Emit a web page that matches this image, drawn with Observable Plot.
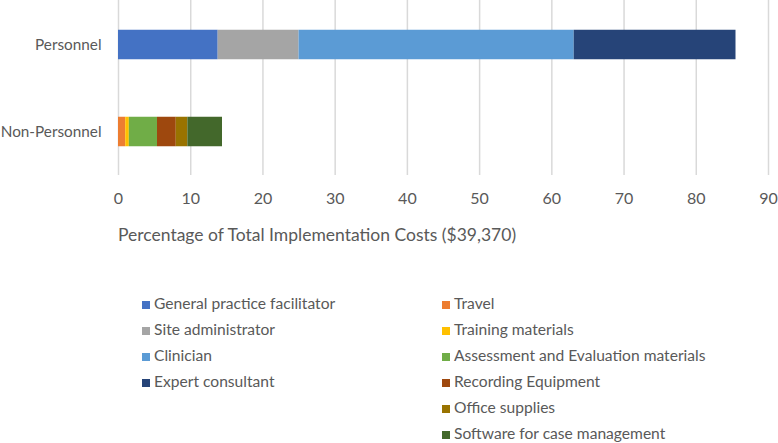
<!DOCTYPE html>
<html>
<head>
<meta charset="utf-8">
<script src="https://cdn.jsdelivr.net/npm/d3@7"></script>
<script src="https://cdn.jsdelivr.net/npm/@observablehq/plot@0.6"></script>
<style>
  html, body { margin: 0; padding: 0; background: #ffffff; }
  #wrap { position: relative; width: 778px; height: 443px; font-family: Lato, "Open Sans", sans-serif; color: #595959; overflow: hidden; }
  #chart { position: absolute; left: 0; top: 0; }
  #xtitle { position: absolute; left: 118px; top: 224px; font-size: 17.5px; line-height: 22px; white-space: nowrap; }
  .lg { position: absolute; font-size: 15.6px; line-height: 18px; white-space: nowrap; }
  .lg span.sw { display: inline-block; width: 8px; height: 8px; margin-right: 4px; vertical-align: 0px; }
</style>
</head>
<body>
<div id="wrap">
  <div id="chart"></div>
  <div id="xtitle"></div>
</div>
<script>
const categories = ["Personnel", "Non-Personnel"];
const personnelItems = ["General practice facilitator", "Site administrator", "Clinician", "Expert consultant"];
const personnelValues = [13.8, 11.2, 38.1, 22.4];
const nonPersonnelItems = ["Travel", "Training materials", "Assessment and Evaluation materials", "Recording Equipment", "Office supplies", "Software for case management"];
const nonPersonnelValues = [1.0, 0.5, 3.9, 2.6, 1.6, 4.8];
const personnelColors = ["#4472C4", "#A5A5A5", "#5B9BD5", "#264478"];
const nonPersonnelColors = ["#ED7D31", "#FFC000", "#70AD47", "#9E480E", "#997300", "#43682B"];
const xTicks = [0, 10, 20, 30, 40, 50, 60, 70, 80, 90];
const xTitle = "Percentage of Total Implementation Costs ($39,370)";

const rows = [
  ...personnelItems.map((item, i) => ({category: categories[0], item, value: personnelValues[i]})),
  ...nonPersonnelItems.map((item, i) => ({category: categories[1], item, value: nonPersonnelValues[i]}))
];
const allItems = [...personnelItems, ...nonPersonnelItems];
const allColors = [...personnelColors, ...nonPersonnelColors];

const plot = Plot.plot({
  width: 778,
  height: 215,
  marginLeft: 118,
  marginRight: 10,
  marginTop: 0,
  marginBottom: 40,
  style: {fontFamily: "Lato, 'Open Sans', sans-serif", fontSize: "16px", color: "#595959", background: "transparent"},
  x: {domain: [0, 90], ticks: xTicks, tickSize: 0, tickPadding: 17, label: null},
  y: {domain: categories, padding: 0, tickSize: 0, tickPadding: 17, label: null},
  color: {domain: allItems, range: allColors},
  marks: [
    Plot.ruleX(xTicks, {stroke: "#d9d9d9", strokeWidth: 1.5}),
    Plot.barX(rows, {x: "value", y: "category", fill: "item", insetTop: 28.75, insetBottom: 28.75})
  ]
});
plot.querySelectorAll("g[aria-label='y-axis tick label'] text, g[aria-label='y-axis'] text").forEach(t => t.style.fontSize = "15.3px");
document.getElementById("chart").appendChild(plot);
document.getElementById("xtitle").textContent = xTitle;

// Legend (HTML, built from the data arrays)
const wrap = document.getElementById("wrap");
const rowYs = [303, 329, 355, 381, 407, 433];
function addLegend(items, colors, left) {
  items.forEach((item, i) => {
    const d = document.createElement("div");
    d.className = "lg";
    d.style.left = left + "px";
    d.style.top = (rowYs[i] - 9) + "px";
    const sw = document.createElement("span");
    sw.className = "sw";
    sw.style.background = colors[i];
    d.appendChild(sw);
    d.appendChild(document.createTextNode(item));
    wrap.appendChild(d);
  });
}
addLegend(personnelItems, personnelColors, 142);
addLegend(nonPersonnelItems, nonPersonnelColors, 442);
</script>
</body>
</html>
